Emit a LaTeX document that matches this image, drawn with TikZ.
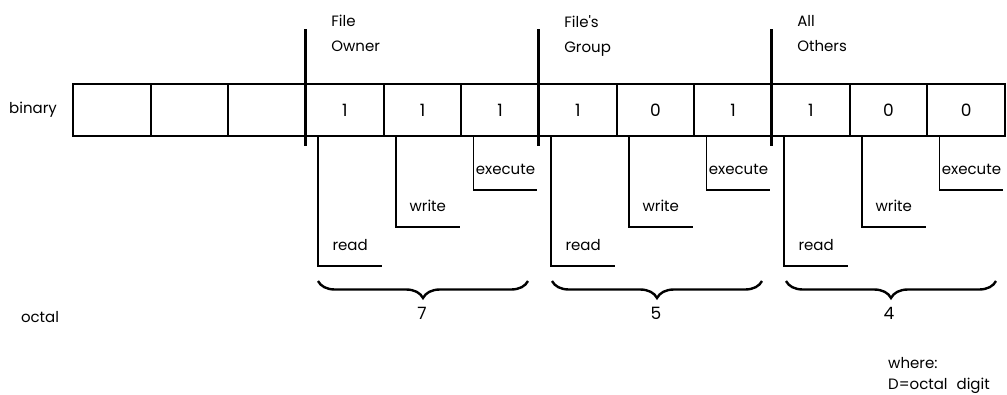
\documentclass[tikz,border=0pt]{standalone}
\usepackage{fontspec}
\setmainfont{Poppins}
\usetikzlibrary{decorations.pathreplacing}
\begin{document}
\begin{tikzpicture}[x=1pt,y=-1pt,
  every node/.style={font=\fontsize{15}{21}\selectfont,inner sep=2pt},
  cell/.style={draw,line width=1.8pt,minimum width=77.67pt,minimum height=52pt,inner sep=0pt,font=\fontsize{17}{21}\selectfont},
  sep/.style={line width=3pt},
  bitline/.style={line width=1.8pt},
  brace/.style={decorate,decoration={brace,mirror,amplitude=17pt},line width=2.4pt}]
\useasboundingbox (0,0) rectangle (1007,394);
\foreach \d [count=\i] in {{},{},{},1,1,1,1,0,1,1,0,0}
  \node[cell] (c\i) at ({73+77.67*(\i-0.5)},110) {\d};
\node (binary) at (33,110) {binary};
\node (octal) at (40,317) {octal};
\foreach \i/\who [count=\g] in {4/{File\\Owner},7/{File\textquotesingle s\\Group},10/{All\\Others}} {
  \draw[sep] (c\i.north west) ++(0,-54) -- ++(0,117);
  \node[anchor=north west,align=left,font=\fontsize{15}{25}\selectfont] (grp\g) at ([xshift=24pt,yshift=70pt]c\i.north west) {\who};
}
\foreach \g in {0,1,2}
  \foreach \lab/\b/\y in {read/0/129,write/1/90,execute/2/53} {
    \pgfmathtruncatemacro\i{4+3*\g+\b}
    \draw[bitline] (c\i.south west) ++(13,0) -- ++(0,\y) coordinate (bend\i)
      -- ++(64,0) node[midway,above=12pt] (lab\i) {\lab};
  }
\draw[brace] (318,281) -- (528,281);
\draw[brace] (552,281) -- (762,281);
\draw[brace] (786,281) -- (996,281);
\node[font=\fontsize{17}{21}\selectfont] (o1) at (422,313) {7};
\node[font=\fontsize{17}{21}\selectfont] (o2) at (656,313) {5};
\node[font=\fontsize{17}{21}\selectfont] (o3) at (889,313) {4};
\node[anchor=west] (where) at (886,363) {where:};
\node[anchor=west] (key) at (886,386) {D=octal\hspace{0.6em}digit};
\end{tikzpicture}
\end{document}
